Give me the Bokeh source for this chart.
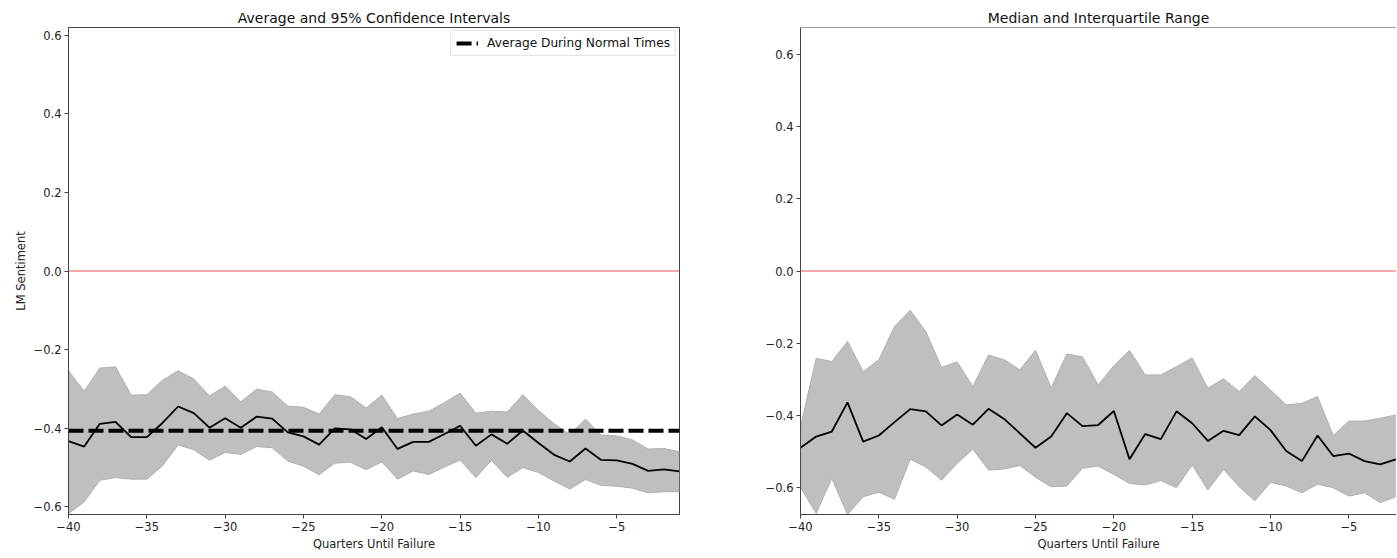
from bokeh.plotting import figure
from bokeh.layouts import row
from bokeh.models import Span, FixedTicker, CustomJSTickFormatter, Range1d, Legend, LegendItem
from bokeh.embed import file_html
from bokeh.resources import INLINE

# ---------------- data ----------------
quarters_left = list(range(-40, 0))
avg_sentiment = [-0.433, -0.447, -0.389, -0.384, -0.423, -0.423, -0.387, -0.345, -0.362, -0.399,
                 -0.375, -0.399, -0.371, -0.376, -0.411, -0.421, -0.442, -0.401, -0.403, -0.428,
                 -0.398, -0.453, -0.435, -0.435, -0.415, -0.394, -0.445, -0.416, -0.440, -0.406,
                 -0.438, -0.468, -0.485, -0.452, -0.481, -0.482, -0.491, -0.509, -0.505, -0.510]
ci_upper = [-0.254, -0.306, -0.247, -0.244, -0.316, -0.315, -0.278, -0.254, -0.275, -0.318,
            -0.293, -0.333, -0.301, -0.308, -0.344, -0.347, -0.364, -0.315, -0.320, -0.349,
            -0.316, -0.376, -0.364, -0.357, -0.335, -0.311, -0.362, -0.357, -0.359, -0.315,
            -0.355, -0.389, -0.416, -0.377, -0.418, -0.420, -0.430, -0.453, -0.452, -0.460]
ci_lower = [-0.618, -0.588, -0.533, -0.526, -0.530, -0.530, -0.496, -0.443, -0.455, -0.482,
            -0.462, -0.467, -0.447, -0.450, -0.484, -0.497, -0.519, -0.489, -0.487, -0.506,
            -0.486, -0.530, -0.509, -0.518, -0.499, -0.481, -0.526, -0.482, -0.525, -0.501,
            -0.513, -0.535, -0.555, -0.531, -0.546, -0.548, -0.553, -0.565, -0.562, -0.562]
normal_avg = -0.407

quarters_right = list(range(-40, -1))
median_sentiment = [-0.490, -0.459, -0.445, -0.364, -0.473, -0.456, -0.419, -0.383, -0.389, -0.428,
                    -0.398, -0.426, -0.382, -0.410, -0.450, -0.490, -0.459, -0.394, -0.430, -0.427,
                    -0.388, -0.522, -0.452, -0.466, -0.389, -0.422, -0.471, -0.443, -0.455, -0.403,
                    -0.441, -0.499, -0.527, -0.456, -0.513, -0.506, -0.527, -0.536, -0.522]
q75 = [-0.432, -0.242, -0.251, -0.195, -0.279, -0.246, -0.154, -0.109, -0.168, -0.267,
       -0.252, -0.320, -0.233, -0.246, -0.274, -0.220, -0.324, -0.230, -0.238, -0.316,
       -0.263, -0.220, -0.288, -0.288, -0.265, -0.241, -0.325, -0.299, -0.334, -0.290,
       -0.330, -0.371, -0.367, -0.348, -0.456, -0.416, -0.416, -0.408, -0.399]
q25 = [-0.600, -0.672, -0.575, -0.675, -0.626, -0.613, -0.633, -0.522, -0.543, -0.580,
       -0.533, -0.494, -0.552, -0.549, -0.539, -0.572, -0.598, -0.596, -0.547, -0.541,
       -0.564, -0.589, -0.593, -0.581, -0.601, -0.538, -0.607, -0.550, -0.598, -0.637,
       -0.586, -0.596, -0.615, -0.591, -0.601, -0.624, -0.615, -0.642, -0.626]

x_ticks = [-40, -35, -30, -25, -20, -15, -10, -5]
y_ticks = [-0.6, -0.4, -0.2, 0.0, 0.2, 0.4, 0.6]

FONT = "DejaVu Sans"
AX = "#444444"

xfmt = CustomJSTickFormatter(code="return tick.toFixed(0).replace('-', '\u2212');")
yfmt = CustomJSTickFormatter(code="var s = tick.toFixed(1); if (s == '-0.0') s = '0.0'; return s.replace('-', '\u2212');")


def make_fig(title, frame_w, xr, yr, left, right):
    p = figure(output_backend="svg", toolbar_location=None,
               frame_width=frame_w, frame_height=487,
               x_range=Range1d(*xr), y_range=Range1d(*yr),
               min_border_left=left, min_border_right=right,
               min_border_top=27, min_border_bottom=36,
               background_fill_color="white", border_fill_color="white")
    p.title.text = title
    p.title.text_font = FONT
    p.title.text_font_size = "14px"
    p.title.text_font_style = "normal"
    p.title.align = "center"
    p.title.standoff = 3
    p.title.text_color = "#111111"
    p.grid.visible = False
    p.outline_line_color = AX
    p.outline_line_width = 1
    for ax in (p.xaxis[0], p.yaxis[0]):
        ax.axis_line_color = AX
        ax.major_tick_line_color = AX
        ax.major_tick_out = 4
        ax.major_tick_in = 0
        ax.minor_tick_line_color = None
        ax.major_label_text_font = FONT
        ax.major_label_text_font_size = "11.5px"
        ax.major_label_text_color = "#222222"
        ax.major_label_standoff = 3
        ax.axis_label_text_font = FONT
        ax.axis_label_text_font_size = "11.5px"
        ax.axis_label_text_font_style = "normal"
        ax.axis_label_text_color = "#222222"
        ax.axis_label_standoff = 3
    p.xaxis.ticker = FixedTicker(ticks=x_ticks)
    p.yaxis.ticker = FixedTicker(ticks=y_ticks)
    p.xaxis.formatter = xfmt
    p.yaxis.formatter = yfmt
    p.xaxis.axis_label = "Quarters Until Failure"
    p.add_layout(Span(location=0, dimension="width", line_color="#f05555",
                      line_width=1, line_alpha=1.0))
    return p


# ---------------- left panel ----------------
p1 = make_fig("Average and 95% Confidence Intervals", 611, (-40, -1), (-0.62, 0.62), 68, 61)
p1.yaxis.axis_label = "LM Sentiment"
p1.varea(x=quarters_left, y1=ci_lower, y2=ci_upper, fill_color="#bfbfbf", fill_alpha=1.0)
p1.line(quarters_left, ci_upper, line_color="#b0b0b0", line_width=1)
p1.line(quarters_left, ci_lower, line_color="#b0b0b0", line_width=1)
p1.line(quarters_left, avg_sentiment, line_color="black", line_width=1.8)
nl = p1.line([quarters_left[0], quarters_left[-1]], [normal_avg, normal_avg],
             line_color="black", line_width=4, line_dash="15 5")
leg = Legend(items=[LegendItem(label="Average During Normal Times", renderers=[nl])],
             location="top_right")
leg.label_text_font = FONT
leg.label_text_font_size = "12.2px"
leg.label_text_color = "#111111"
leg.border_line_color = "#cccccc"
leg.border_line_width = 1
leg.background_fill_alpha = 0.9
leg.margin = 3
leg.padding = 5
leg.spacing = 0
leg.glyph_width = 22
leg.glyph_height = 12
leg.label_standoff = 9
leg.label_height = 12
p1.add_layout(leg)

# ---------------- right panel ----------------
p2 = make_fig("Median and Interquartile Range", 596, (-40, -1.96), (-0.675, 0.675), 60, 0)
p2.outline_line_color = None
p2.add_layout(Span(location=0.675, dimension="width", line_color=AX, line_width=1))
p2.varea(x=quarters_right, y1=q25, y2=q75, fill_color="#bfbfbf", fill_alpha=1.0)
p2.line(quarters_right, q75, line_color="#b0b0b0", line_width=1)
p2.line(quarters_right, q25, line_color="#b0b0b0", line_width=1)
p2.line(quarters_right, median_sentiment, line_color="black", line_width=1.8)

layout = row(p1, p2)
open("out.html", "w").write(file_html(layout, INLINE))
